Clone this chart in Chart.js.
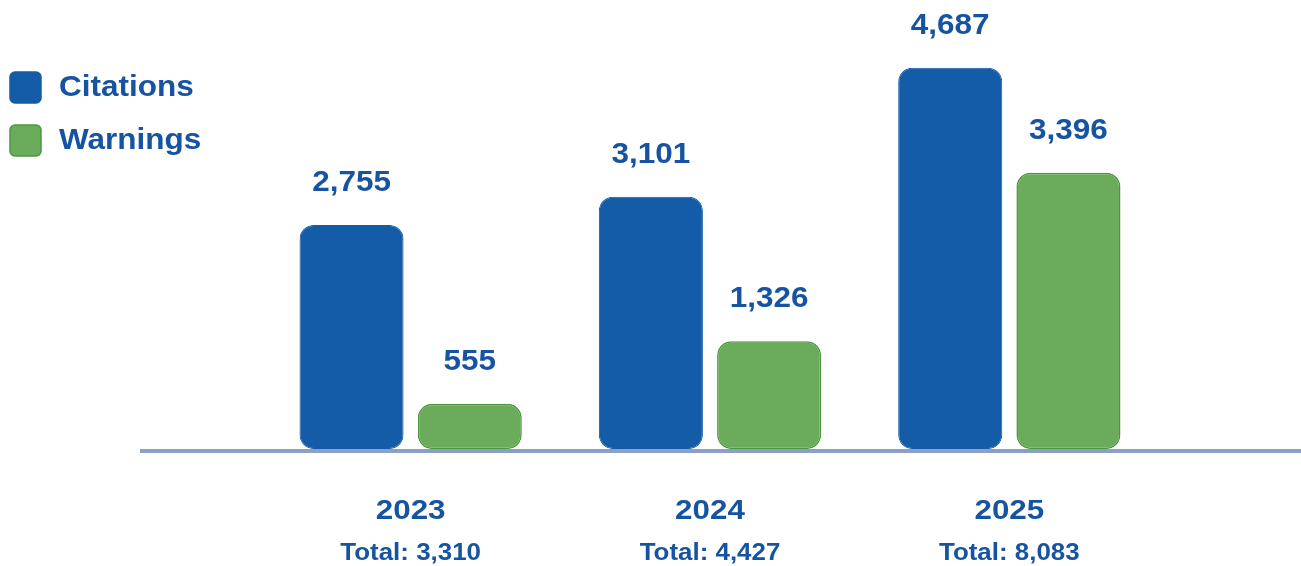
<!DOCTYPE html>
<html>
<head>
<meta charset="utf-8">
<script src="https://cdn.jsdelivr.net/npm/chart.js@4.4.1/dist/chart.umd.min.js"></script>
<style>
  html, body { margin: 0; padding: 0; background: #ffffff; }
  #wrap { width: 1301px; height: 566px; position: relative; }
</style>
</head>
<body>
<div id="wrap"><canvas id="c" width="1301" height="566"></canvas></div>
<script>
const years = ['2023', '2024', '2025'];
const citations = [2755, 3101, 4687];
const warnings = [555, 1326, 3396];
const seriesNames = ['Citations', 'Warnings'];

const BLUE = 'rgb(21,92,168)';
const GREEN = 'rgb(106,172,92)';
const GREEN_BORDER = 'rgb(72,152,60)';
const TEXT = 'rgb(22,84,162)';
const FONT = '"Liberation Sans", Arial, sans-serif';

const fmt = v => v.toLocaleString('en-US');

// draw text with a slight horizontal stretch
function stretchText(ctx, text, x, y, size, sx, align) {
  ctx.save();
  ctx.font = 'bold ' + size + 'px ' + FONT;
  ctx.textAlign = align || 'center';
  ctx.textBaseline = 'middle';
  ctx.translate(x, y);
  ctx.scale(sx, 1);
  ctx.fillText(text, 0, 0);
  ctx.restore();
}

const overlay = {
  id: 'overlay',
  beforeDatasetsDraw(chart) {
    const ctx = chart.ctx;
    const y0 = chart.scales.y.getPixelForValue(0);
    ctx.save();
    ctx.strokeStyle = 'rgb(140,160,198)';
    ctx.lineWidth = 4;
    ctx.beginPath();
    ctx.moveTo(140, y0 + 2);
    ctx.lineTo(chart.width, y0 + 2);
    ctx.stroke();
    ctx.restore();
  },
  afterDatasetsDraw(chart) {
    const ctx = chart.ctx;
    ctx.save();
    ctx.fillStyle = TEXT;
    chart.data.datasets.forEach((ds, di) => {
      chart.getDatasetMeta(di).data.forEach((bar, i) => {
        stretchText(ctx, fmt(ds.data[i]), bar.x, bar.y - 42, 30, 1.05);
      });
    });
    const xs = chart.scales.x;
    years.forEach((yr, i) => {
      const x = xs.getPixelForValue(i);
      stretchText(ctx, yr, x, 511, 28, 1.12);
      stretchText(ctx, 'Total: ' + fmt(citations[i] + warnings[i]), x, 553, 24, 1.08);
    });
    // legend
    const cols = [[BLUE, BLUE], [GREEN, GREEN_BORDER]];
    seriesNames.forEach((name, k) => {
      const cy = 87 + k * 53;
      ctx.beginPath();
      ctx.fillStyle = cols[k][0];
      ctx.strokeStyle = cols[k][1];
      ctx.lineWidth = 1.5;
      ctx.roundRect(10, cy - 15, 31, 31, 5);
      ctx.fill();
      ctx.stroke();
      ctx.fillStyle = TEXT;
      stretchText(ctx, name, 59, cy + 1, 30, 1.05, 'left');
    });
    ctx.restore();
  }
};

new Chart(document.getElementById('c'), {
  type: 'bar',
  data: {
    labels: years,
    datasets: [
      { label: seriesNames[0], data: citations, backgroundColor: BLUE, borderColor: BLUE,
        borderWidth: 1, borderRadius: 14, borderSkipped: false },
      { label: seriesNames[1], data: warnings, backgroundColor: GREEN, borderColor: GREEN_BORDER,
        borderWidth: 1.5, borderRadius: 14, borderSkipped: false }
    ]
  },
  options: {
    responsive: false,
    animation: false,
    layout: { padding: { left: 261, right: 142, top: 0, bottom: 117 } },
    datasets: { bar: { categoryPercentage: 0.79, barPercentage: 0.88 } },
    plugins: { legend: { display: false }, tooltip: { enabled: false } },
    scales: {
      x: { display: false, offset: true },
      y: { display: false, min: 0, max: 5520 }
    }
  },
  plugins: [overlay]
});
</script>
</body>
</html>
